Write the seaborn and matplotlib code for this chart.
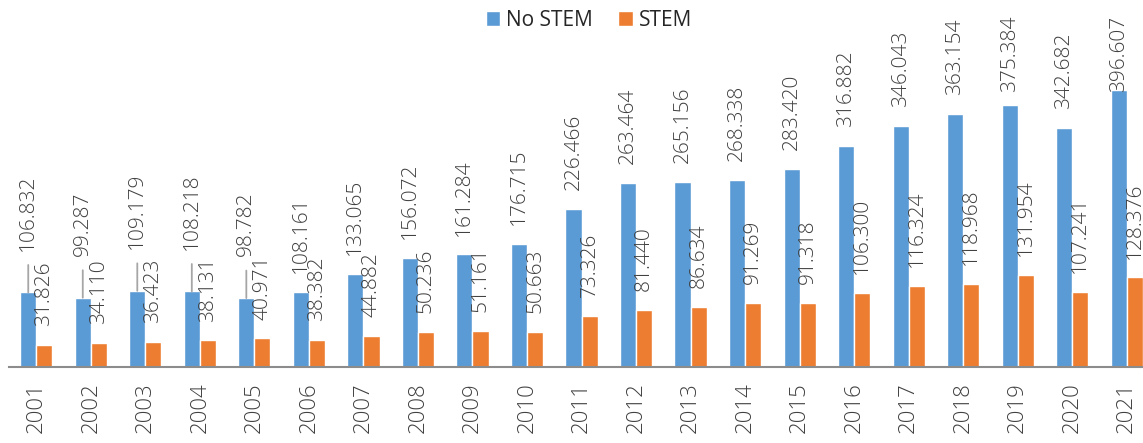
import pandas as pd
import matplotlib.pyplot as plt
import seaborn as sns

years = [str(y) for y in range(2001, 2022)]
no_stem = [106.832, 99.287, 109.179, 108.218, 98.782, 108.161, 133.065, 156.072,
           161.284, 176.715, 226.466, 263.464, 265.156, 268.338, 283.420, 316.882,
           346.043, 363.154, 375.384, 342.682, 396.607]
stem = [31.826, 34.110, 36.423, 38.131, 40.971, 38.382, 44.882, 50.236,
        51.161, 50.663, 73.326, 81.440, 86.634, 91.269, 91.318, 106.300,
        116.324, 118.968, 131.954, 107.241, 128.376]
series = ['No STEM', 'STEM']

df = pd.DataFrame({
    'year': years * 2,
    'value': no_stem + stem,
    'group': ['No STEM'] * len(years) + ['STEM'] * len(years),
})

sns.set_style('white')
plt.rcParams['font.family'] = ['Open Sans', 'DejaVu Sans']
txt = '#404040'

fig = plt.figure(figsize=(11.43, 4.43), dpi=100)
ax = fig.add_axes([0.0079, 0.1716, 1.0017, 0.8284])

sns.barplot(data=df, x='year', y='value', hue='group', hue_order=series,
            palette=['#5B9BD5', '#ED7D31'], width=0.59, saturation=1,
            ax=ax, legend=True)

ax.set_ylim(0, 526)
ax.set_xlim(-0.5, len(years) - 0.5)

# value labels; the first few blue ones were moved up with leader lines
for k, (bars, vals) in enumerate(zip(ax.containers, [no_stem, stem])):
    for i, (b, v) in enumerate(zip(bars, vals)):
        xc = b.get_x() + b.get_width() / 2
        if k == 0 and i < 5:
            ax.annotate(f'{v:.3f}', xy=(xc, v), xytext=(xc, v + 60),
                        rotation=90, ha='center', va='bottom', fontsize=15,
                        color=txt, fontweight='light',
                        arrowprops=dict(arrowstyle='-', color='#A6A6A6', lw=1.3,
                                        shrinkA=8, shrinkB=0))
        else:
            ax.text(xc, min(v + 27, 394), f'{v:.3f}', rotation=90,
                    ha='center', va='bottom', fontsize=15, color=txt,
                    fontweight='light')

sns.despine(ax=ax, left=True, top=True, right=True)
ax.spines['bottom'].set_color('#8C8C8C')
ax.spines['bottom'].set_linewidth(1.5)
ax.set_yticks([])
ax.set_xlabel('')
ax.set_ylabel('')
ax.tick_params(axis='x', length=0, pad=11, labelsize=16, labelcolor=txt,
               labelrotation=90)
for lab in ax.get_xticklabels():
    lab.set_fontweight('light')

ax.legend(loc='center', bbox_to_anchor=(589 / 1143, 1 - 20 / 443),
          bbox_transform=fig.transFigure, ncol=2, frameon=False,
          fontsize=15, handlelength=0.7, handleheight=0.7, handletextpad=0.3,
          columnspacing=1.2, labelcolor='#262626')

fig.savefig('out.png', dpi=100)
